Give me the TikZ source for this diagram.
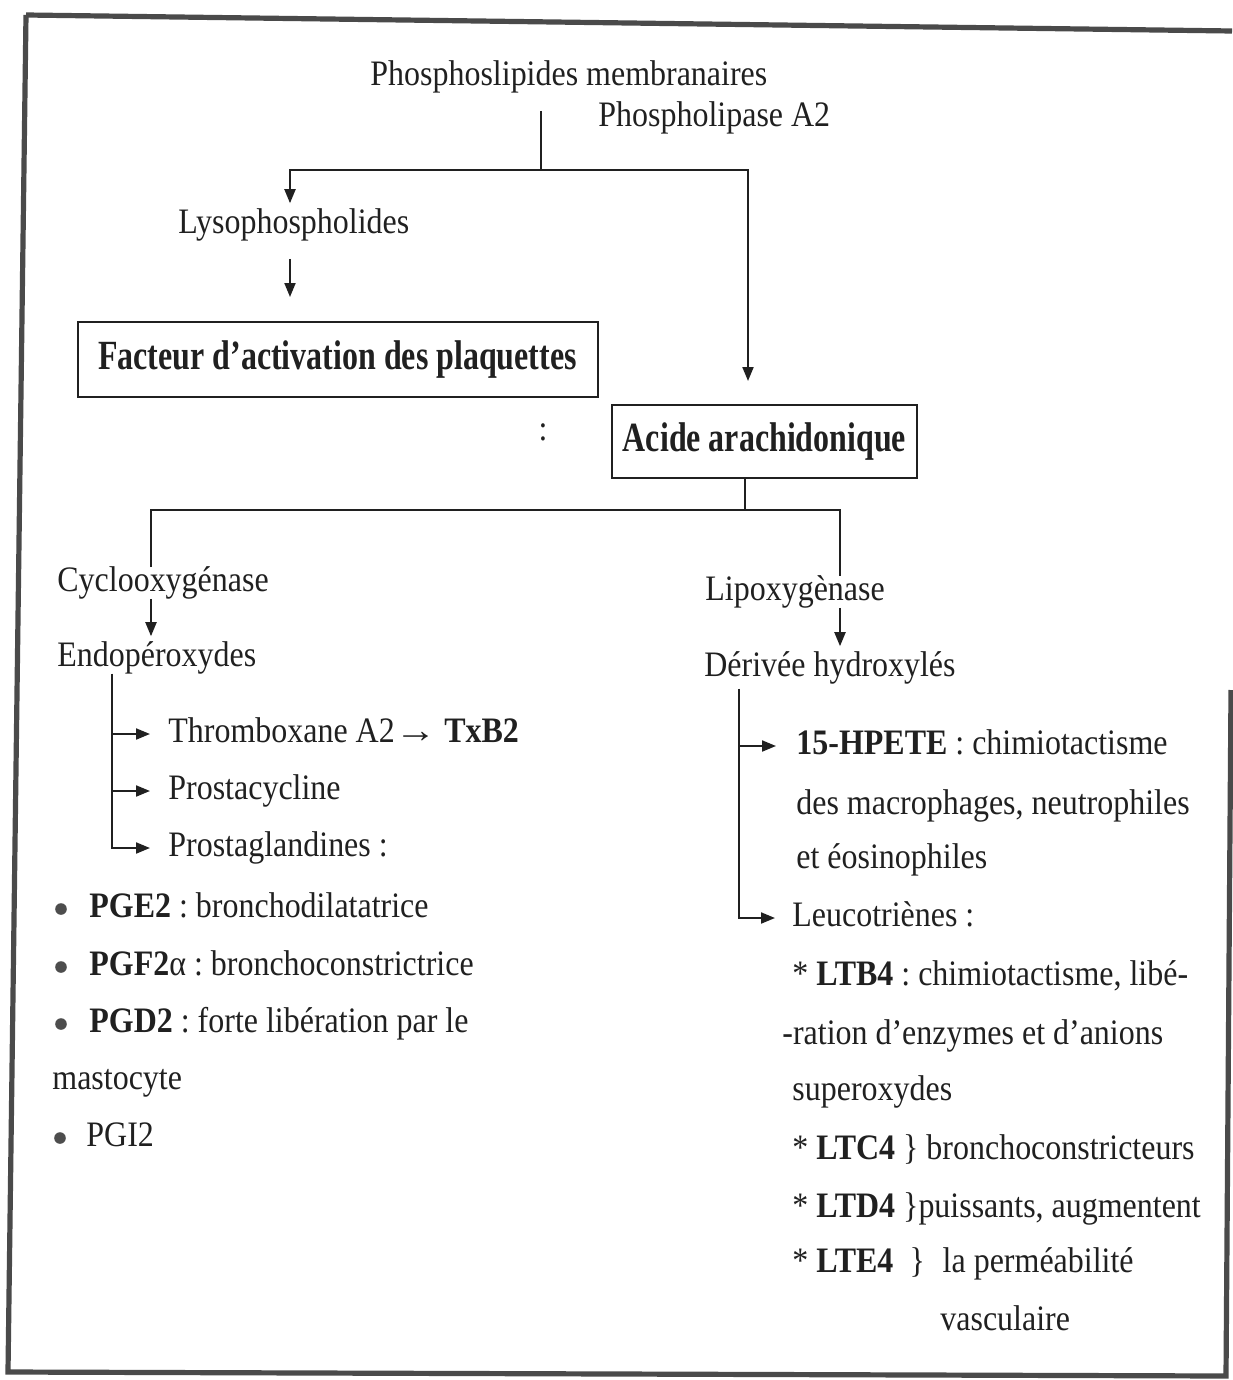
\documentclass[tikz,border=0pt]{standalone}
\usepackage{fontspec}
% a slightly tall, narrow Times-like face
\setmainfont{Liberation Serif}[FakeStretch=0.893]
\usetikzlibrary{arrows.meta,calc}

\definecolor{ink}{HTML}{202020}
\definecolor{framegray}{HTML}{4A4A4A}

\begin{document}
\frenchspacing
\begin{tikzpicture}[x=0.5pt,y=-0.5pt,
  every node/.style={font=\fontsize{17.9}{21}\selectfont, text=ink, inner sep=0pt},
  lbl/.style={anchor=west, text height=11.8pt, text depth=3.6pt},
  keybox/.style={draw=ink, line width=1pt, align=center},
  dot/.style={circle, fill=ink!80, minimum size=5.8pt},
  link/.style={draw=ink, line width=1pt},
  arrow/.style={link, -{Triangle[length=7pt,width=5.5pt]}},
  frame/.style={draw=framegray, line width=2.6pt, line join=miter}
]
\useasboundingbox (0,0) rectangle (1232,1380);

% outer frame
\draw[frame] (26,15) -- (1232,31);
\draw[frame] (26,15) -- (8,1372) -- (1226,1376) -- (1231,690);

% column guides for the connectors
\coordinate (fork1) at (541,170);
\coordinate (fork2) at (745,510);
\coordinate (cL) at (290,0);
\coordinate (cA) at (748,0);
\coordinate (cC) at (151,0);
\coordinate (cX) at (840,0);
\coordinate (cE) at (112,0);
\coordinate (cH) at (739,0);

% top of the cascade
\node[lbl] (phospho) at (370,77) {Phosphoslipides membranaires};
\node[lbl] (pla2) at (598,118) {Phospholipase A2};
\node[lbl] (lyso) at (178,225) {Lysophospholides};
\node[keybox, minimum width=260pt, minimum height=37.5pt] (paf) at (337.5,359.5)
  {\scalebox{1}[1.16]{\bfseries Facteur d’activation des plaquettes}};
\node (colon) at (543,432) {:};
\node[keybox, minimum width=152.5pt, minimum height=36.5pt] (aa) at (764.5,441.5)
  {\scalebox{1}[1.16]{\bfseries Acide arachidonique}};

% enzymes
\node[lbl] (cox) at (57,583) {Cyclooxygénase};
\node[lbl] (lox) at (705,592) {Lipoxygènase};
\node[lbl] (endo) at (57,658) {Endopéroxydes};
\node[lbl] (hyd) at (704,668) {Dérivée hydroxylés};

% cyclooxygenase products
\node[lbl] (txa) at (168,734) {Thromboxane A2\scalebox{1.3}[1]{→} \textbf{TxB2}};
\node[lbl] (pgi) at (168,791) {Prostacycline};
\node[lbl] (pgs) at (168,848) {Prostaglandines :};
\node[dot] (b1) at (61,909) {};
\node[lbl] (pge) at (89,909) {\textbf{PGE2} : bronchodilatatrice};
\node[dot] (b2) at (61,967) {};
\node[lbl] (pgf) at (89,967) {\textbf{PGF2}α : bronchoconstrictrice};
\node[dot] (b3) at (61,1024) {};
\node[lbl] (pgd) at (89,1024) {\textbf{PGD2} : forte libération par le};
\node[lbl] (mast) at (52,1081) {mastocyte};
\node[dot] (b4) at (60,1138) {};
\node[lbl] (pgitwo) at (86,1138) {PGI2};

% lipoxygenase products
\node[lbl] (hpete) at (796,746) {\textbf{15-HPETE} : chimiotactisme};
\node[lbl] (macro) at (796,806) {des macrophages, neutrophiles};
\node[lbl] (eos) at (796,860) {et éosinophiles};
\node[lbl] (leuco) at (792,918) {Leucotriènes :};
\node[lbl] (ltb) at (792,977) {* \textbf{LTB4} : chimiotactisme, libé-};
\node[lbl] (ration) at (782,1036) {-ration d’enzymes et d’anions};
\node[lbl] (superox) at (792,1092) {superoxydes};
\node[lbl] (ltc) at (792,1151) {* \textbf{LTC4} \} bronchoconstricteurs};
\node[lbl] (ltd) at (792,1209) {* \textbf{LTD4} \}puissants, augmentent};
\node[lbl] (lte) at (792,1264) {* \textbf{LTE4}\hspace{0.45em}\}\hspace{0.5em}la perméabilité};
\node[lbl] (vasc) at (940,1322) {vasculaire};

% connectors
\draw[link, shorten <=9pt] (fork1 |- phospho.south) -- (fork1);
\draw[arrow, shorten >=3pt] (fork1) -| (cL |- lyso.north);
\draw[arrow, shorten >=11.5pt] (fork1) -| (cA |- aa.north);
\draw[arrow, shorten <=9pt, shorten >=12pt] (cL |- lyso.south) -- (cL |- paf.north);

\draw[link] (fork2 |- aa.south) -- (fork2);
\draw[link] (cC |- cox.north) |- (fork2) -| (cX |- lox.north);
\draw[arrow, shorten >=3pt] (cC |- cox.south) -- (cC |- endo.north);
\draw[arrow, shorten >=3pt] (cX |- lox.south) -- (cX |- hyd.north);

\draw[arrow, shorten >=9pt] (cE |- endo.south) |- (txa.west);
\draw[arrow, shorten >=9pt] (cE |- endo.south) |- (pgi.west);
\draw[arrow, shorten >=9pt] (cE |- endo.south) |- (pgs.west);

\draw[arrow, shorten <=2.5pt, shorten >=10pt] (cH |- hyd.south) |- (hpete.west);
\draw[arrow, shorten <=2.5pt, shorten >=8.5pt] (cH |- hyd.south) |- (leuco.west);
\end{tikzpicture}
\end{document}
